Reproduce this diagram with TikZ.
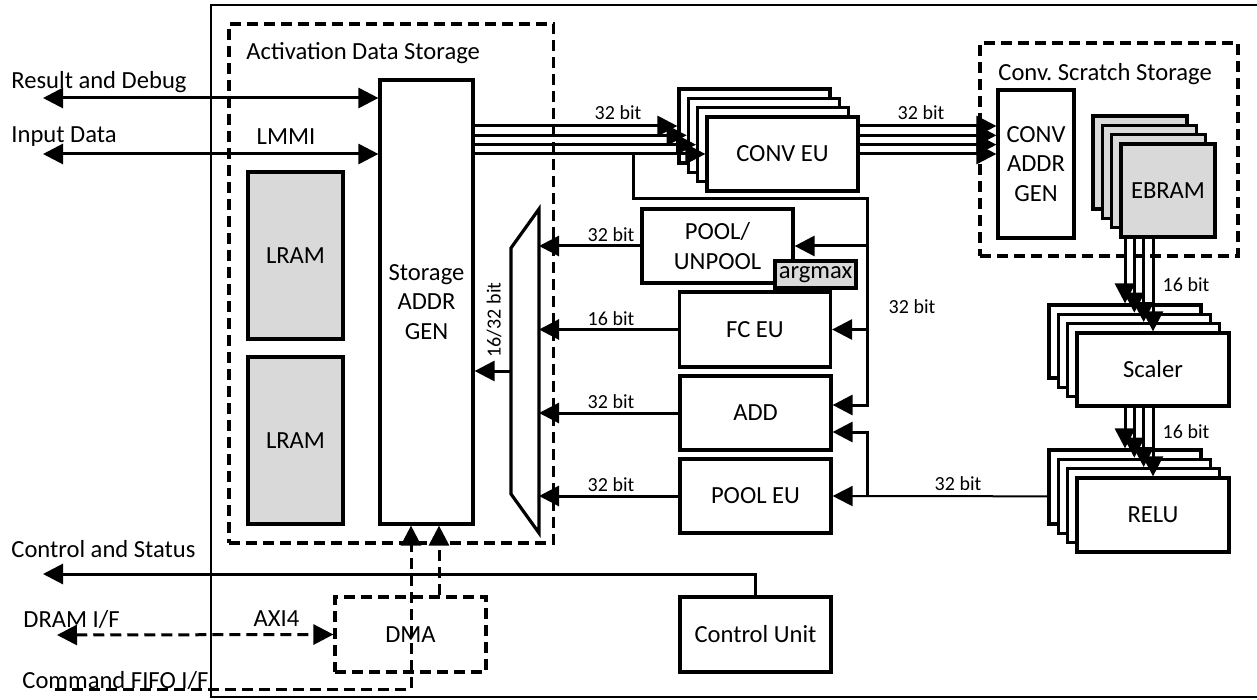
\documentclass[tikz,border=0pt]{standalone}
\usepackage{fontspec}
\setmainfont{Carlito}
\usetikzlibrary{arrows.meta,calc}
\definecolor{ramgray}{RGB}{217,217,217}
\tikzset{
    blk/.style 2 args={draw,line width=1.6pt,fill=white,inner sep=0pt,align=center,minimum width=#1*0.5pt,minimum height=#2*0.5pt},
    ram/.style={fill=ramgray},
    grp/.style 2 args={draw,line width=1.6pt,dash pattern=on 5.5pt off 3pt,inner sep=0pt,minimum width=#1*0.5pt,minimum height=#2*0.5pt},
    bit/.style={font=\fontsize{10}{12}\selectfont,inner sep=0pt},
    txt/.style={inner sep=0pt,anchor=west},
    wire/.style={line width=1.5pt},
    tap/.style={line width=1pt},
    dwire/.style={line width=1.5pt,dash pattern=on 5.5pt off 3pt}
}

\begin{document}
\begin{tikzpicture}[x=0.5pt,y=-0.5pt,
    >={Triangle[length=10pt,width=10pt]},
    font=\fontsize{12.3}{14.7}\selectfont]
    \useasboundingbox (0,0) rectangle (1257,700);

    % frame
    \draw[line width=1.4pt] (1257,5) -| (211,697) -- (1257,697);

    % activation data storage
    \node[grp={324.5}{519}] (ads) at (391.25,283.5) {};
    \node[txt] (adslbl) at (246,53) {Activation Data Storage};
    \node[blk={93}{444}] (sag) at (426.5,302) {Storage\\ADDR\\GEN};
    \node[blk={95}{167},ram] (lram1) at (295.5,255.5) {LRAM};
    \node[blk={95}{167},ram] (lram2) at (295.5,440.5) {LRAM};

    % conv scratch storage
    \node[grp={258}{213}] (css) at (1109,149.5) {};
    \node[txt] (csslbl) at (998,74) {Conv.\ Scratch Storage};
    \node[blk={76}{148}] (cag) at (1036,164) {CONV\\ADDR\\GEN};
    \foreach \i/\t in {0/,1/,2/,3/EBRAM}
        \node[blk={94}{93},ram] (ebram\i) at (1140+9.33*\i,162.5+9.33*\i) {\t};

    % stacked units
    \foreach \i/\t in {0/,1/,2/,3/CONV EU}
        \node[blk={151}{74}] (conv\i) at (754.5+9.33*\i,126+9.33*\i) {\t};
    \foreach \i/\t in {0/,1/,2/,3/Scaler}
        \node[blk={152}{73}] (scl\i) at (1125+9.33*\i,341.5+9.33*\i) {\t};
    \foreach \i/\t in {0/,1/,2/,3/RELU}
        \node[blk={152}{74}] (relu\i) at (1125+9.33*\i,487+9.33*\i) {\t};

    % execution units
    \node[blk={151}{74}] (pu) at (717.5,246) {POOL/\\UNPOOL};
    \node[blk={81}{27},ram] (amax) at (815.5,274.5) {argmax};
    \node[blk={151}{75}] (fc) at (755,329.5) {FC EU};
    \node[blk={151}{74}] (add) at (755.5,413) {ADD};
    \node[blk={151}{74}] (peu) at (755.5,496) {POOL EU};
    \node[blk={151}{75}] (cu) at (755.5,634.5) {Control Unit};
    \node[grp={151}{75}] (dma) at (410.5,634.5) {DMA};

    % mux
    \coordinate (mux1) at (511,248);
    \coordinate (mux2) at (539,209);
    \coordinate (mux3) at (539,533);
    \coordinate (mux4) at (511,494);
    \draw[line width=1.6pt] (mux1) -- (mux2) -- (mux3) -- (mux4) -- cycle;
    \node[bit,rotate=90] (muxlbl) at (494,320) {16/32 bit};

    % storage -> conv eu -> conv addr gen
    \foreach \i in {0,...,3} {
        \draw[wire,->] (sag.east |- conv\i.west) -- (conv\i.west);
        \draw[wire,->] (conv3.east |- conv\i.west) -- (cag.west |- conv\i.west);
    }
    \node[bit] (b1) at (618,113) {32 bit};
    \node[bit] (b2) at (921,113) {32 bit};

    % ebram -> scaler -> relu
    \foreach \i in {0,...,3} {
        \draw[wire,->] (ebram3.south -| scl\i.north) -- (scl\i.north);
        \draw[wire,->] (scl3.south -| relu\i.north) -- (relu\i.north);
    }
    \node[bit] (b3) at (1186,285) {16 bit};
    \node[bit] (b4) at (1186,432) {16 bit};

    % feed from storage bus
    \coordinate (ta) at (633,154);
    \coordinate (tb) at (867,199);
    \draw[wire,->] (ta) |- (tb) |- ($(add.east)+(0,-8)$);
    \draw[wire,->] (tb |- pu.east) -- (pu.east);
    \draw[wire,->] (tb |- fc.east) -- (fc.east);
    \node[bit] (b5) at (912,307) {32 bit};

    % feed from relu
    \coordinate (jb) at (tb |- peu.east);
    \draw[tap,->] (relu0.west |- relu1.west) -- (peu.east);
    \draw[wire,->] (jb) |- ($(add.east)+(0,19)$);
    \node[bit] (b6) at (958,484) {32 bit};

    % units -> mux -> storage
    \foreach \b/\w in {pu/32 bit,fc/16 bit,add/32 bit,peu/32 bit} {
        \draw[wire,->] (\b.west) -- (\b.west -| mux2);
        \node[bit] (\b lbl) at ($(\b.west -| 611,0)+(0,-11)$) {\w};
    }
    \coordinate (mo) at (511,371);
    \draw[wire,->] (mo) -- (mo -| sag.east);

    % external interfaces
    \coordinate (rd) at (43,98);
    \coordinate (id) at (43,154);
    \coordinate (cs) at (43,574);
    \coordinate (dr) at (57,635);
    \coordinate (cf) at (55,689);
    \draw[wire,<->] (rd) -- (rd -| sag.west);
    \draw[wire,<->] (id) -- (id -| sag.west);
    \draw[wire,->] (cu.north) |- (cs);
    \draw[dwire,<->] (dr) -- (dma.west);
    \draw[dwire,->] (cf) -| (sag.south -| 411,0);
    \draw[dwire,->] (dma.north -| 439,0) -- (sag.south -| 439,0);
    \node[txt] (rdlbl) at (11,82) {Result and Debug};
    \node[txt] (idlbl) at (11,137) {Input Data};
    \node[inner sep=0pt] (lmmi) at (286,137) {LMMI};
    \node[txt] (cslbl) at (11,549) {Control and Status};
    \node[txt] (drlbl) at (23,619) {DRAM I/F};
    \node[inner sep=0pt] (axi) at (276.5,619) {AXI4};
    \node[txt] (cflbl) at (22,680) {Command FIFO I/F};
\end{tikzpicture}
\end{document}
